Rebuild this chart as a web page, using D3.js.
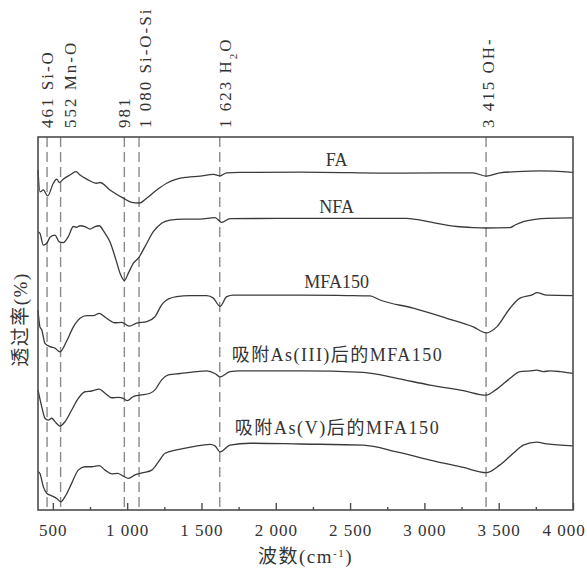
<!DOCTYPE html>
<html>
<head>
<meta charset="utf-8">
<script src="https://cdn.jsdelivr.net/npm/d3@7"></script>
<style>
  body { margin: 0; background: #fff; }
  text { font-family: "Liberation Serif", "Times New Roman", "Noto Sans CJK SC", serif; fill: #333; }
</style>
</head>
<body>
<svg id="chart" width="587" height="572"></svg>
<script>
// FTIR spectra, [wavenumber cm-1, relative transmittance]
const faData = [
  [400, 91.2], [413, 85.3], [436, 85.8], [465, 84.2], [503, 87.6], [526, 88.7], [543, 87.8],
  [570, 88.7], [615, 89.8], [656, 90.7], [683, 89.8], [728, 88.7], [795, 87.6], [817, 87.8],
  [884, 85.8], [974, 83.6], [1030, 82.5], [1082, 82.3], [1131, 83.6], [1199, 85.8], [1266, 87.6],
  [1333, 88.7], [1401, 89.2], [1490, 89.5], [1580, 90.0], [1625, 89.6], [1670, 90.4], [1759, 90.5],
  [2163, 90.6], [2836, 90.3], [3327, 90.4], [3417, 89.5], [3509, 90.4], [3621, 90.7], [3778, 90.9],
  [4000, 90.5]
];
const nfaData = [
  [400, 74.6], [413, 74.2], [436, 71.0], [459, 71.5], [481, 73.1], [514, 73.7], [543, 71.9],
  [570, 71.7], [604, 73.3], [638, 76.0], [660, 75.8], [683, 76.2], [716, 76.0], [750, 75.3],
  [784, 76.0], [812, 76.2], [844, 74.6], [884, 71.9], [925, 67.0], [952, 63.5], [981, 61.5],
  [1008, 63.5], [1041, 66.1], [1075, 67.5], [1120, 70.6], [1176, 74.6], [1232, 76.9], [1288, 77.7],
  [1378, 78.0], [1490, 78.0], [1591, 78.4], [1636, 77.1], [1692, 78.1], [2163, 78.2], [2881, 78.2],
  [2993, 77.6], [3105, 76.7], [3217, 76.0], [3329, 75.7], [3417, 75.6], [3576, 75.7], [3610, 76.4],
  [3666, 77.3], [3744, 77.9], [3823, 78.2], [4000, 78.3]
];
const mfaData = [
  [400, 53.6], [413, 49.1], [425, 48.3], [447, 44.7], [481, 43.8], [514, 43.4], [548, 42.4],
  [593, 45.3], [638, 49.1], [683, 51.4], [728, 52.1], [772, 52.1], [812, 52.7], [862, 51.4],
  [918, 50.2], [963, 50.3], [1014, 49.3], [1064, 50.1], [1131, 50.5], [1187, 51.8], [1232, 55.0],
  [1266, 56.3], [1333, 57.2], [1423, 57.5], [1535, 57.5], [1580, 56.8], [1625, 54.6], [1670, 57.2],
  [1714, 57.6], [2163, 57.6], [2477, 57.5], [2634, 57.4], [2701, 56.3], [2925, 54.1], [3150, 51.4],
  [3329, 49.1], [3417, 47.5], [3487, 49.1], [3576, 54.1], [3643, 56.8], [3733, 57.8], [3756, 58.3],
  [3823, 57.6], [4000, 57.5]
];
const as3Data = [
  [400, 32.2], [425, 27.7], [447, 24.6], [469, 24.1], [492, 24.6], [514, 23.7], [548, 22.5],
  [582, 23.7], [627, 26.8], [671, 29.9], [716, 31.7], [761, 31.9], [812, 32.4], [851, 31.3],
  [896, 30.1], [940, 30.2], [974, 29.9], [1001, 29.3], [1041, 30.4], [1086, 30.8], [1154, 31.3],
  [1187, 32.2], [1232, 34.9], [1277, 36.2], [1355, 36.6], [1468, 37.1], [1535, 37.3], [1591, 36.6],
  [1625, 35.7], [1692, 37.1], [1759, 37.3], [2163, 37.3], [2589, 36.9], [2814, 35.3], [3038, 33.5],
  [3262, 32.0], [3415, 30.8], [3487, 32.4], [3576, 35.3], [3643, 37.1], [3711, 37.3], [3756, 37.5],
  [3800, 37.1], [3845, 37.3], [3913, 37.1], [4000, 36.6]
];
const as5Data = [
  [400, 10.3], [413, 9.8], [436, 6.2], [459, 4.5], [492, 3.8], [526, 3.1], [553, 2.2],
  [582, 3.6], [627, 7.2], [671, 10.7], [716, 11.6], [761, 11.6], [812, 11.9], [851, 10.7],
  [896, 9.7], [934, 9.8], [974, 9.1], [1008, 8.5], [1053, 9.4], [1109, 10.0], [1165, 10.7],
  [1210, 12.9], [1255, 15.2], [1333, 16.1], [1445, 17.0], [1557, 17.6], [1591, 17.2], [1625, 15.6],
  [1692, 17.4], [1827, 17.9], [2163, 17.7], [2589, 17.4], [2814, 15.6], [3038, 13.4], [3262, 11.4],
  [3415, 10.0], [3509, 12.1], [3598, 15.2], [3666, 17.4], [3756, 18.2], [3823, 17.7], [4000, 17.2]
];

const seriesNames = ["FA", "NFA", "MFA150", "吸附As(III)后的MFA150", "吸附As(V)后的MFA150"];
const seriesData = [faData, nfaData, mfaData, as3Data, as5Data];

const peakWavenumbers = [461, 552, 981, 1080, 1623, 3415];
const peakLabels = ["461 Si-O", "552 Mn-O", "981", "1 080 Si-O-Si", "1 623 H|2|O", "3 415 OH-"];

const xTicks = [500, 1000, 1500, 2000, 2500, 3000, 3500, 4000];
const xMinorTicks = [750, 1250, 1750, 2250, 2750, 3250, 3750];

const svg = d3.select("#chart");
const x = d3.scaleLinear().domain([400, 4000]).range([38, 573]);
const y = d3.scaleLinear().domain([0, 100]).range([510, 137]);

// dashed peak markers
svg.append("g")
  .selectAll("line")
  .data(peakWavenumbers)
  .join("line")
  .attr("x1", d => x(d)).attr("x2", d => x(d))
  .attr("y1", y(100)).attr("y2", y(0))
  .attr("stroke", "#8a8a8a")
  .attr("stroke-width", 1.4)
  .attr("stroke-dasharray", "10,5");

// spectra
const line = d3.line()
  .x(d => x(d[0]))
  .y(d => y(d[1]))
  .curve(d3.curveMonotoneX);

svg.append("g")
  .selectAll("path")
  .data(seriesData)
  .join("path")
  .attr("fill", "none")
  .attr("stroke", "#3a3a3a")
  .attr("stroke-width", 1.3)
  .attr("stroke-linejoin", "round")
  .attr("d", line);

// frame
svg.append("rect")
  .attr("x", x(400)).attr("y", y(100))
  .attr("width", x(4000) - x(400))
  .attr("height", y(0) - y(100))
  .attr("fill", "none")
  .attr("stroke", "#4d4d4d")
  .attr("stroke-width", 1.6);

// bottom axis, ticks point inward
const fmt = d => d >= 1000 ? d3.format(",")(d).replace(",", " ") : d;
const xAxis = svg.append("g")
  .attr("transform", `translate(0,${y(0)})`)
  .call(d3.axisBottom(x).tickValues(xTicks).tickSize(-7).tickPadding(14).tickFormat(fmt));
xAxis.select(".domain").remove();
xAxis.selectAll("line").attr("stroke", "#4d4d4d").attr("stroke-width", 1.4);
xAxis.selectAll("text")
  .attr("font-size", 17)
  .attr("letter-spacing", 1)
  .attr("font-family", "Liberation Serif")
  .attr("fill", "#333");
xAxis.selectAll("text").filter(d => d === 4000).attr("dx", "-0.55em");

const xMinor = svg.append("g")
  .attr("transform", `translate(0,${y(0)})`)
  .call(d3.axisBottom(x).tickValues(xMinorTicks).tickSize(-3).tickFormat(""));
xMinor.select(".domain").remove();
xMinor.selectAll("line").attr("stroke", "#4d4d4d").attr("stroke-width", 1.4);

// peak labels, rotated
const labelShift = [0, 9, 0, 5.5, 5.5, 2];
const peakText = svg.append("g")
  .selectAll("text")
  .data(peakLabels)
  .join("text")
  .attr("transform", (d, i) => `translate(${x(peakWavenumbers[i]) + labelShift[i]},128) rotate(-90)`)
  .attr("dy", "0.35em")
  .attr("font-size", 17)
  .attr("letter-spacing", 2);
peakText.each(function(d) {
  const parts = d.split("|");
  const t = d3.select(this);
  parts.forEach((p, k) => {
    const ts = t.append("tspan").text(p);
    if (k === 1) ts.attr("baseline-shift", "sub").attr("font-size", 11);
  });
});

// series labels
const labelWn = 2410;
const labelDy = [6, 5.5, 7.5, 10, 10];
const labelLen = [null, null, null, 210, 204];
svg.append("g")
  .selectAll("text")
  .data(seriesNames)
  .join("text")
  .attr("x", x(labelWn))
  .attr("y", (d, i) => y(seriesData[i].find(p => p[0] >= 2163)[1]) - labelDy[i])
  .attr("text-anchor", "middle")
  .attr("font-size", 18)
  .attr("textLength", (d, i) => labelLen[i])
  .attr("lengthAdjust", "spacing")
  .text(d => d);

// axis titles
const xTitle = svg.append("text")
  .attr("x", (x(400) + x(4000)) / 2)
  .attr("y", 563)
  .attr("text-anchor", "middle")
  .attr("font-size", 19)
  .attr("letter-spacing", 1.5);
xTitle.append("tspan").text("波数(cm");
xTitle.append("tspan").text("-1").attr("baseline-shift", "super").attr("font-size", 11);
xTitle.append("tspan").text(")");

svg.append("text")
  .attr("transform", `translate(20,${(y(0) + y(100)) / 2 - 4}) rotate(-90)`)
  .attr("dy", "0.35em")
  .attr("text-anchor", "middle")
  .attr("font-size", 19)
  .attr("letter-spacing", 1.5)
  .text("透过率(%)");
</script>
</body>
</html>
